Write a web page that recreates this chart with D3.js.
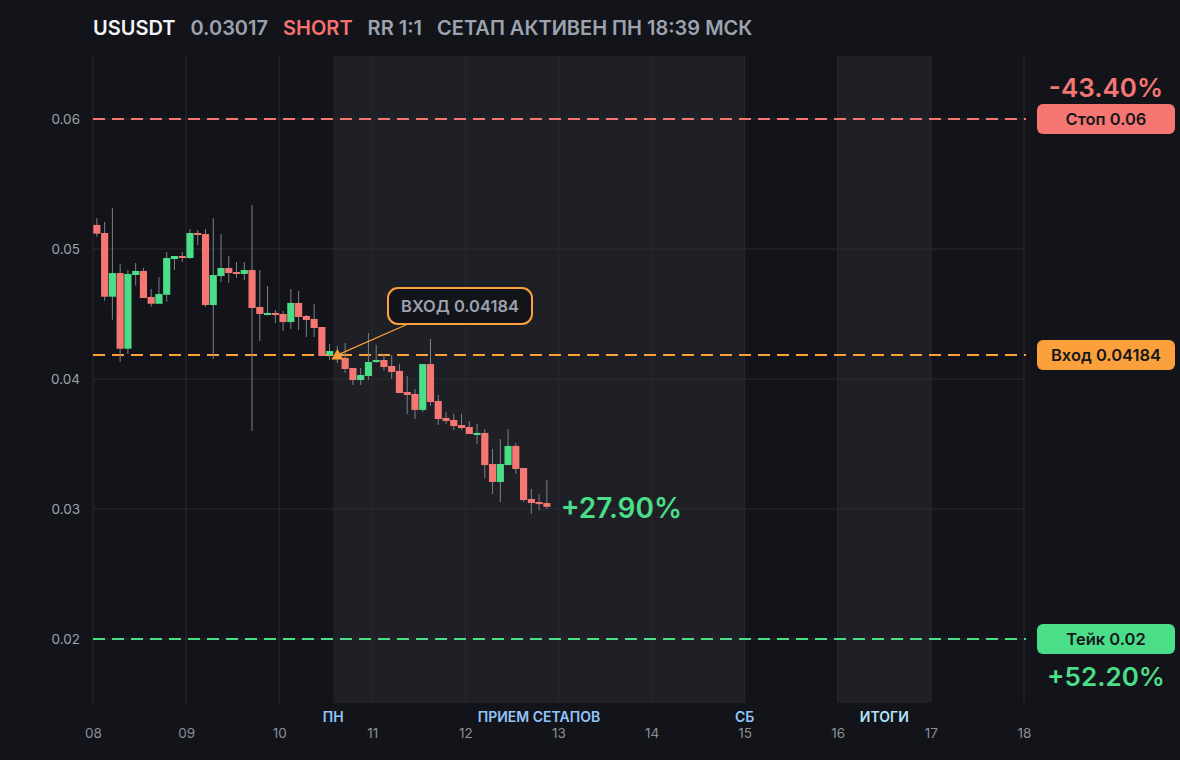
<!DOCTYPE html>
<html lang="ru">
<head>
<meta charset="UTF-8"/>
<title>USUSDT short setup</title>
<script src="https://d3js.org/d3.v7.min.js"></script>
<style>
  html, body { margin: 0; padding: 0; background: #131419; }
  svg { display: block; font-family: Inter, "Noto Sans", sans-serif; }
</style>
</head>
<body>
<script>
// 2h candles, starting on day 08 00:00
var opens  = [0.05185,0.05123,0.04633,0.04815,0.04233,0.04800,0.04831,0.04631,0.04579,0.04648,
              0.04923,0.04946,0.04931,0.05123,0.05115,0.04569,0.04792,0.04854,0.04823,0.04808,
              0.04838,0.04554,0.04492,0.04508,0.04500,0.04438,0.04585,0.04485,0.04462,0.04400,
              0.04185,0.04177,0.04162,0.04085,0.03992,0.04023,0.04131,0.04146,0.04100,0.04062,
              0.03900,0.03885,0.03762,0.04115,0.03831,0.03700,0.03685,0.03646,0.03631,0.03569,
              0.03585,0.03346,0.03208,0.03338,0.03485,0.03315,0.03077,0.03054,0.03046];
var highs  = [0.05238,0.05208,0.05315,0.04885,0.04838,0.04892,0.04854,0.04692,0.04785,0.04977,
              0.04946,0.04977,0.05154,0.05146,0.05154,0.05238,0.05115,0.04946,0.04900,0.04900,
              0.05338,0.04838,0.04715,0.04531,0.04523,0.04692,0.04677,0.04492,0.04577,0.04400,
              0.04269,0.04254,0.04277,0.04085,0.04085,0.04354,0.04262,0.04192,0.04185,0.04115,
              0.04023,0.03923,0.04115,0.04308,0.03877,0.03746,0.03731,0.03731,0.03677,0.03654,
              0.03615,0.03462,0.03538,0.03615,0.03508,0.03315,0.03154,0.03115,0.03223];
var lows   = [0.05095,0.04602,0.04456,0.04133,0.04192,0.04718,0.04623,0.04556,0.04579,0.04594,
              0.04838,0.04900,0.04923,0.05031,0.04554,0.04154,0.04746,0.04738,0.04777,0.04762,
              0.03600,0.04292,0.04492,0.04431,0.04369,0.04385,0.04377,0.04323,0.04323,0.04177,
              0.04146,0.04123,0.04046,0.03954,0.03954,0.03992,0.04123,0.04062,0.04000,0.03892,
              0.03731,0.03692,0.03746,0.03792,0.03646,0.03654,0.03608,0.03608,0.03577,0.03500,
              0.03238,0.03115,0.03054,0.03338,0.03269,0.03054,0.02962,0.02992,0.03000];
var closes = [0.05118,0.04633,0.04815,0.04233,0.04808,0.04831,0.04623,0.04579,0.04654,0.04931,
              0.04946,0.04931,0.05123,0.05108,0.04569,0.04800,0.04854,0.04815,0.04808,0.04838,
              0.04546,0.04500,0.04508,0.04492,0.04438,0.04585,0.04477,0.04454,0.04392,0.04177,
              0.04215,0.04162,0.04077,0.03992,0.04031,0.04131,0.04146,0.04092,0.04054,0.03892,
              0.03877,0.03762,0.04115,0.03823,0.03692,0.03677,0.03638,0.03623,0.03577,0.03585,
              0.03338,0.03208,0.03346,0.03485,0.03308,0.03069,0.03046,0.03038,0.03017];

var startDay = 8;
var candleDays = 1 / 12;   // 2 hours
var entryIndex = 31;

var dayTicks = [8, 9, 10, 11, 12, 13, 14, 15, 16, 17, 18];
var priceTicks = [0.02, 0.03, 0.04, 0.05, 0.06];

var entry = 0.04184, stop = 0.06, take = 0.02, last = 0.03017;
var stopPct = "-43.40%", takePct = "+52.20%", livePct = "+27.90%";

// shaded phases: [start day, end day]
var setupBand = [10.58, 15];
var resultBand = [16, 17];
var phaseLabels = [
  {text: "ПН", day: 10.58, color: "#93c5fd"},
  {text: "ПРИЕМ СЕТАПОВ", day: 12.79, color: "#93c5fd"},
  {text: "СБ", day: 15, color: "#93c5fd"},
  {text: "ИТОГИ", day: 16.5, color: "#b3e5f7"}
];

var header = [
  {text: "USUSDT", color: "#f3f4f6"},
  {text: "0.03017", color: "#9ca3af"},
  {text: "SHORT", color: "#f87171"},
  {text: "RR 1:1", color: "#9ca3af"},
  {text: "СЕТАП АКТИВЕН ПН 18:39 МСК", color: "#9ca3af"}
];

var w = 1180, h = 760;
var red = "#f57673", green = "#4ade88", orange = "#fba03a";
var plotTop = 56, plotBottom = 703;

var svg = d3.select("body").append("svg")
  .attr("width", w).attr("height", h);

svg.append("rect").attr("width", w).attr("height", h).attr("fill", "#131419");

var xScale = d3.scaleLinear().domain([8, 18]).range([93, 1024]);
var yScale = d3.scaleLinear().domain([0.02, 0.06]).range([639, 119]);

// phase bands
svg.selectAll("rect.band")
  .data([setupBand, resultBand])
  .enter().append("rect")
  .attr("class", "band")
  .attr("x", function(d) { return xScale(d[0]); })
  .attr("width", function(d) { return xScale(d[1]) - xScale(d[0]); })
  .attr("y", plotTop).attr("height", plotBottom - plotTop)
  .attr("fill", "#1f2026");

// grid
svg.selectAll("line.vgrid")
  .data(dayTicks)
  .enter().append("line")
  .attr("x1", function(d) { return xScale(d); })
  .attr("x2", function(d) { return xScale(d); })
  .attr("y1", plotTop).attr("y2", plotBottom)
  .attr("stroke", "#2a2b31").attr("stroke-width", 1);

svg.selectAll("line.hgrid")
  .data(priceTicks)
  .enter().append("line")
  .attr("x1", xScale(8)).attr("x2", xScale(18))
  .attr("y1", function(d) { return yScale(d); })
  .attr("y2", function(d) { return yScale(d); })
  .attr("stroke", "#2a2b31").attr("stroke-width", 1);

// axes
var yAxis = d3.axisLeft(yScale).tickValues(priceTicks).tickSize(0).tickPadding(0)
  .tickFormat(function(d) { return d3.format(".2f")(d); });
var yg = svg.append("g").attr("transform", "translate(80,0)").call(yAxis);
yg.select(".domain").remove();
yg.selectAll("text").attr("fill", "#9ca3af").attr("font-size", 13.5)
  .attr("font-family", "Inter, sans-serif").attr("dy", "0.36em");

var xAxis = d3.axisBottom(xScale).tickValues(dayTicks).tickSize(0).tickPadding(0)
  .tickFormat(function(d) { return d3.format("02d")(d); });
var xg = svg.append("g").attr("transform", "translate(0,728)").call(xAxis);
xg.select(".domain").remove();
xg.selectAll("text").attr("fill", "#8b8f98").attr("font-size", 13.5)
  .attr("font-family", "Inter, sans-serif");

svg.selectAll("text.phase")
  .data(phaseLabels)
  .enter().append("text")
  .attr("x", function(d) { return xScale(d.day); })
  .attr("y", 722)
  .attr("text-anchor", "middle")
  .attr("font-size", 14).attr("font-weight", 600)
  .attr("fill", function(d) { return d.color; })
  .text(function(d) { return d.text; });

// level lines
var levels = [
  {v: stop, color: red},
  {v: entry, color: orange},
  {v: take, color: green}
];
svg.selectAll("line.level")
  .data(levels)
  .enter().append("line")
  .attr("x1", xScale(8)).attr("x2", xScale(18) + 2)
  .attr("y1", function(d) { return yScale(d.v); })
  .attr("y2", function(d) { return yScale(d.v); })
  .attr("stroke", function(d) { return d.color; })
  .attr("stroke-width", 2)
  .attr("stroke-dasharray", "12,7");

// candles
var candles = opens.map(function(o, i) {
  return {i: i, t: startDay + i * candleDays, o: o, h: highs[i], l: lows[i], c: closes[i]};
});
var cw = xScale(startDay + candleDays) - xScale(startDay);

var cg = svg.append("g");
cg.selectAll("line.wick")
  .data(candles)
  .enter().append("line")
  .attr("x1", function(d) { return xScale(d.t) + cw / 2; })
  .attr("x2", function(d) { return xScale(d.t) + cw / 2; })
  .attr("y1", function(d) { return yScale(d.h); })
  .attr("y2", function(d) { return yScale(d.l); })
  .attr("stroke", "#7d8088").attr("stroke-width", 1);

cg.selectAll("rect.body")
  .data(candles)
  .enter().append("rect")
  .attr("x", function(d) { return xScale(d.t) + 0.3; })
  .attr("width", cw - 0.6)
  .attr("y", function(d) { return yScale(Math.max(d.o, d.c)); })
  .attr("height", function(d) { return Math.max(2, Math.abs(yScale(d.o) - yScale(d.c))); })
  .attr("fill", function(d) { return d.c >= d.o ? green : red; });

// entry marker and callout
var ex = xScale(startDay + entryIndex * candleDays) + cw / 2;
var ey = yScale(entry);
var boxX = 388, boxY = 288, boxW = 144, boxH = 36;

svg.append("line")
  .attr("x1", ex + 2).attr("y1", ey - 1)
  .attr("x2", boxX + 20).attr("y2", boxY + boxH)
  .attr("stroke", orange).attr("stroke-width", 1.2);

svg.append("path")
  .attr("d", d3.symbol().type(d3.symbolTriangle).size(64))
  .attr("transform", "translate(" + ex + "," + (ey + 1) + ")")
  .attr("fill", orange);

svg.append("rect")
  .attr("x", boxX).attr("y", boxY).attr("width", boxW).attr("height", boxH)
  .attr("rx", 10)
  .attr("fill", "#131419").attr("stroke", orange).attr("stroke-width", 2);
svg.append("text")
  .attr("x", boxX + boxW / 2).attr("y", boxY + boxH / 2 + 6)
  .attr("text-anchor", "middle")
  .attr("font-size", 16.5).attr("font-weight", 600).attr("fill", "#9ca3af")
  .text("ВХОД " + entry);

// live result next to last candle
svg.append("text")
  .attr("x", xScale(startDay + (closes.length) * candleDays) + 10)
  .attr("y", yScale(last) + 11)
  .attr("font-size", 28).attr("font-weight", 600).attr("fill", green)
  .text(livePct);

// right side labels
var tags = [
  {v: stop, text: "Стоп " + stop, color: red},
  {v: entry, text: "Вход " + entry, color: orange},
  {v: take, text: "Тейк " + take, color: green}
];
var tg = svg.selectAll("g.tag")
  .data(tags)
  .enter().append("g")
  .attr("transform", function(d) { return "translate(1106," + yScale(d.v) + ")"; });
tg.append("rect")
  .attr("x", -69).attr("y", -15).attr("width", 138).attr("height", 30)
  .attr("rx", 6)
  .attr("fill", function(d) { return d.color; });
tg.append("text")
  .attr("text-anchor", "middle").attr("y", 6)
  .attr("font-size", 16.5).attr("font-weight", 600).attr("fill", "#16171b")
  .text(function(d) { return d.text; });

svg.append("text")
  .attr("x", 1106).attr("y", yScale(stop) - 22)
  .attr("text-anchor", "middle")
  .attr("font-size", 26).attr("font-weight", 600).attr("fill", red)
  .text(stopPct);
svg.append("text")
  .attr("x", 1106).attr("y", yScale(take) + 47)
  .attr("text-anchor", "middle")
  .attr("font-size", 26).attr("font-weight", 600).attr("fill", green)
  .text(takePct);

// header line
var hx = 93;
header.forEach(function(d, i) {
  var t = svg.append("text")
    .attr("x", hx).attr("y", 35)
    .attr("font-size", 20).attr("font-weight", 600)
    .attr("fill", d.color)
    .text(d.text);
  hx += t.node().getComputedTextLength() + 15;
});
</script>
</body>
</html>
